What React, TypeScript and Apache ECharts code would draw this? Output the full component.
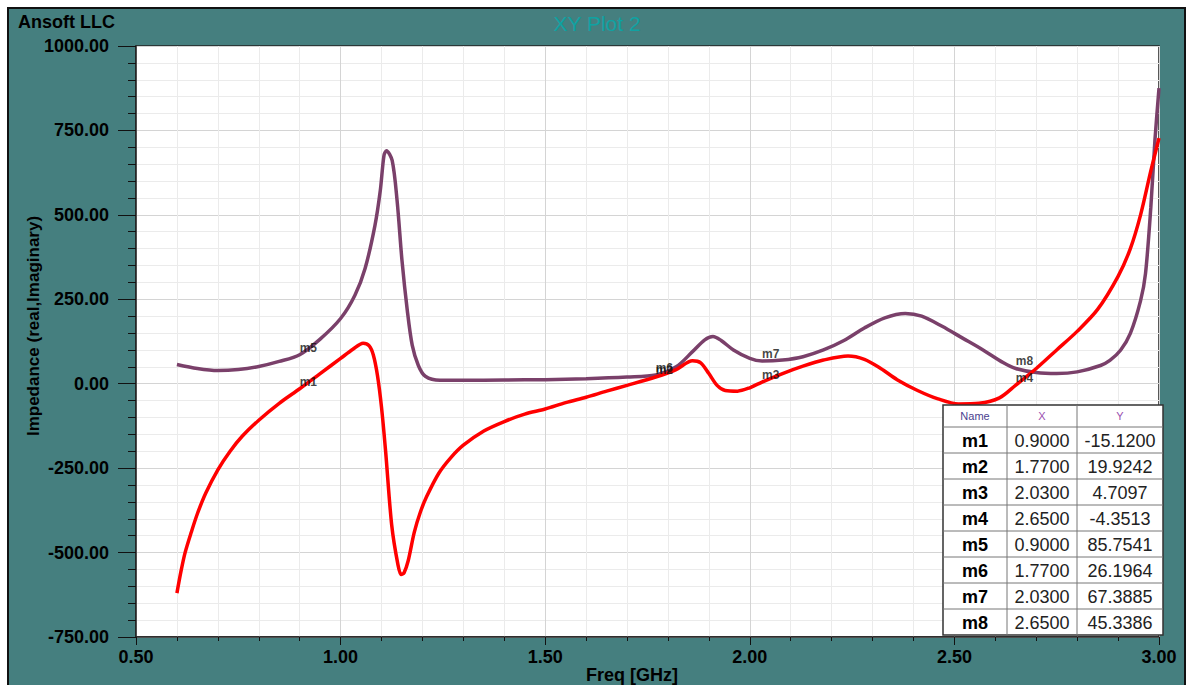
import React, { useEffect, useRef } from "react";
import * as echarts from "echarts";

// ---- data ----
const realFreq = [0.60, 0.61, 0.62, 0.635, 0.65, 0.67, 0.70, 0.73, 0.76, 0.80, 0.85, 0.90, 0.95, 1.00, 1.03, 1.055, 1.07, 1.08, 1.09, 1.10, 1.11, 1.125, 1.14, 1.148, 1.155, 1.165, 1.18, 1.195, 1.21, 1.24, 1.27, 1.30, 1.35, 1.40, 1.45, 1.50, 1.55, 1.60, 1.65, 1.70, 1.77, 1.82, 1.86, 1.88, 1.90, 1.92, 1.94, 1.97, 2.00, 2.03, 2.08, 2.13, 2.18, 2.24, 2.28, 2.32, 2.36, 2.41, 2.46, 2.51, 2.56, 2.61, 2.65, 2.70, 2.75, 2.80, 2.85, 2.90, 2.93, 2.955, 2.98, 3.00];
const realVals = [-620, -555, -500, -440, -385, -325, -255, -200, -155, -108, -58, -15, 30, 75, 102, 120, 112, 85, 25, -70, -200, -420, -535, -565, -560, -525, -440, -380, -335, -265, -218, -182, -140, -112, -90, -75, -56, -40, -22, -5, 20, 42, 68, 62, 30, -5, -20, -22, -12, 5, 30, 52, 70, 82, 72, 45, 12, -20, -45, -60, -58, -42, -4, 45, 100, 155, 220, 318, 400, 500, 630, 727];

const imagFreq = [0.60, 0.65, 0.70, 0.75, 0.80, 0.85, 0.90, 0.95, 1.00, 1.035, 1.06, 1.084, 1.097, 1.106, 1.112, 1.126, 1.138, 1.15, 1.163, 1.175, 1.19, 1.207, 1.243, 1.30, 1.40, 1.50, 1.60, 1.70, 1.77, 1.82, 1.86, 1.89, 1.91, 1.93, 1.96, 2.00, 2.03, 2.08, 2.13, 2.18, 2.23, 2.28, 2.33, 2.38, 2.42, 2.47, 2.52, 2.57, 2.62, 2.65, 2.70, 2.75, 2.80, 2.857, 2.88, 2.906, 2.93, 2.955, 2.967, 2.98, 2.99, 3.00];
const imagVals = [57, 45, 39, 42, 51, 66, 86, 132, 193, 262, 342, 469, 572, 676, 690, 661, 543, 365, 217, 114, 54, 22, 10, 10, 11, 12, 15, 20, 26, 50, 95, 130, 140, 128, 100, 75, 67, 70, 80, 100, 128, 165, 195, 208, 200, 170, 135, 100, 62, 45, 33, 30, 35, 54, 69, 99, 149, 246, 326, 522, 720, 875];

const markerNames = ["m1", "m2", "m3", "m4", "m5", "m6", "m7", "m8"];
const markerX = [0.9, 1.77, 2.03, 2.65, 0.9, 1.77, 2.03, 2.65];
const markerY = [-15.12, 19.9242, 4.7097, -4.3513, 85.7541, 26.1964, 67.3885, 45.3386];

const xTicks = { min: 0.5, max: 3.0, step: 0.5 };
const yTicks = { min: -750, max: 1000, step: 250 };

const TEAL = "#457f7f";
const RED = "#ff0000";
const PURPLE = "#7a406a";
const FONT = "Arial, 'Liberation Sans', sans-serif";

function buildTable(): any[] {
  const left = 943, top = 405, headH = 22, rowH = 26;
  const cols = [943, 1007, 1077, 1163];
  const bottom = top + headH + rowH * markerNames.length;
  const els: any[] = [];
  els.push({ type: "rect", z: 100, shape: { x: left, y: top, width: cols[3] - left, height: bottom - top }, style: { fill: "#fff", stroke: "#333", lineWidth: 1.5 } });
  for (let i = 1; i < 3; i++) {
    els.push({ type: "line", z: 101, shape: { x1: cols[i], y1: top, x2: cols[i], y2: bottom }, style: { stroke: "#777", lineWidth: 1 } });
  }
  for (let r = 0; r < markerNames.length; r++) {
    const y = top + headH + r * rowH;
    els.push({ type: "line", z: 101, shape: { x1: left, y1: y, x2: cols[3], y2: y }, style: { stroke: "#777", lineWidth: 1 } });
  }
  const headers = ["Name", "X", "Y"];
  const headColors = ["#4a3f8f", "#9a4fb0", "#9a4fb0"];
  headers.forEach((h, i) => {
    els.push({ type: "text", z: 102, x: (cols[i] + cols[i + 1]) / 2, y: top + headH / 2, style: { text: h, fill: headColors[i], font: `11px ${FONT}`, textAlign: "center", textVerticalAlign: "middle" } });
  });
  markerNames.forEach((n, r) => {
    const cy = top + headH + r * rowH + rowH / 2 + 1;
    els.push({ type: "text", z: 102, x: (cols[0] + cols[1]) / 2, y: cy, style: { text: n, fill: "#000", font: `bold 18px ${FONT}`, textAlign: "center", textVerticalAlign: "middle" } });
    els.push({ type: "text", z: 102, x: (cols[1] + cols[2]) / 2, y: cy, style: { text: markerX[r].toFixed(4), fill: "#222", font: `18px ${FONT}`, textAlign: "center", textVerticalAlign: "middle" } });
    els.push({ type: "text", z: 102, x: (cols[2] + cols[3]) / 2, y: cy, style: { text: markerY[r].toFixed(4), fill: "#222", font: `18px ${FONT}`, textAlign: "center", textVerticalAlign: "middle" } });
  });
  return els;
}

export default function App() {
  const ref = useRef<HTMLDivElement>(null);
  useEffect(() => {
    if (!ref.current) return;
    const chart = echarts.init(ref.current, undefined, { renderer: "svg" });
    const realData = realFreq.map((f, i) => [f, realVals[i]]);
    const imagData = imagFreq.map((f, i) => [f, imagVals[i]]);
    const markerData = markerNames.map((n, i) => ({ name: n, value: [markerX[i], markerY[i]] }));
    const axisLabelStyle = { color: "#000", fontSize: 18, fontWeight: "bold", fontFamily: FONT };
    chart.setOption({
      animation: false,
      backgroundColor: TEAL,
      grid: { left: 136, top: 46, right: 29, bottom: 48, show: true, backgroundColor: "#fff", borderColor: "#222", borderWidth: 1.5 },
      xAxis: {
        type: "value", min: xTicks.min, max: xTicks.max, interval: xTicks.step,
        axisLine: { show: true, onZero: false, lineStyle: { color: "#222", width: 1.5 } },
        axisTick: { show: true, inside: false, length: 8, lineStyle: { color: "#111" } },
        minorTick: { show: true, splitNumber: 5, length: 4, lineStyle: { color: "#111" } },
        splitLine: { show: true, lineStyle: { color: "#d4d4d4" } },
        minorSplitLine: { show: true, lineStyle: { color: "#ebebeb" } },
        axisLabel: { ...axisLabelStyle, margin: 11, formatter: (v: number) => v.toFixed(2) },
      },
      yAxis: {
        type: "value", min: yTicks.min, max: yTicks.max, interval: yTicks.step,
        axisLine: { show: true, onZero: false, lineStyle: { color: "#222", width: 1.5 } },
        axisTick: { show: true, inside: false, length: 18, lineStyle: { color: "#111" } },
        minorTick: { show: true, splitNumber: 5, length: 8, lineStyle: { color: "#111" } },
        splitLine: { show: true, lineStyle: { color: "#d4d4d4" } },
        minorSplitLine: { show: true, lineStyle: { color: "#ebebeb" } },
        axisLabel: { ...axisLabelStyle, margin: 27, formatter: (v: number) => v.toFixed(2) },
      },
      series: [
        { type: "line", name: "re", data: realData, showSymbol: false, smooth: 0.3, lineStyle: { color: RED, width: 3.5 }, z: 3 },
        { type: "line", name: "im", data: imagData, showSymbol: false, smooth: 0.3, lineStyle: { color: PURPLE, width: 3.5 }, z: 2 },
        {
          type: "scatter", name: "markers", data: markerData, symbolSize: 0, z: 5,
          label: { show: true, formatter: (p: any) => p.name, position: "right", distance: 0, offset: [0, -7], color: "#111", fontSize: 12, fontWeight: "bold", fontFamily: FONT },
        },
      ],
      graphic: [
        { type: "rect", z: 50, shape: { x: 0, y: 0, width: 1188, height: 7 }, style: { fill: "#fff" } },
        { type: "rect", z: 50, shape: { x: 0, y: 0, width: 7, height: 685 }, style: { fill: "#fff" } },
        { type: "rect", z: 50, shape: { x: 1186, y: 0, width: 2, height: 685 }, style: { fill: "#fff" } },
        { type: "polyline", z: 51, shape: { points: [[8, 690], [8, 8], [1185, 8], [1185, 690]] }, style: { stroke: "#111", lineWidth: 2, fill: null } },
        { type: "text", z: 52, x: 18, y: 22, style: { text: "Ansoft LLC", fill: "#000", font: `bold 18px ${FONT}`, textAlign: "left", textVerticalAlign: "middle" } },
        { type: "text", z: 52, x: 597, y: 23, style: { text: "XY Plot 2", fill: "#10a2a2", font: `21px ${FONT}`, textAlign: "center", textVerticalAlign: "middle" } },
        { type: "text", z: 52, x: 33, y: 326, rotation: Math.PI / 2, style: { text: "Impedance (real,Imaginary)", fill: "#000", font: `bold 17px ${FONT}`, textAlign: "center", textVerticalAlign: "middle" } },
        { type: "text", z: 52, x: 632, y: 675, style: { text: "Freq [GHz]", fill: "#000", font: `bold 18px ${FONT}`, textAlign: "center", textVerticalAlign: "middle" } },
        ...buildTable(),
      ],
    });
    return () => chart.dispose();
  }, []);
  return <div ref={ref} style={{ position: "absolute", left: 0, top: 0, width: 1188, height: 685 }} />;
}
